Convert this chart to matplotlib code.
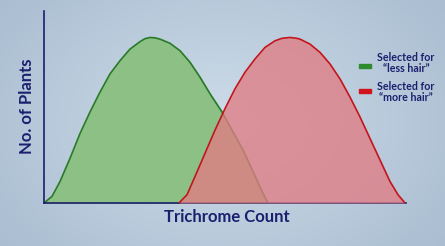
import numpy as np
import matplotlib
matplotlib.use("Agg")
import matplotlib.pyplot as plt

# values (x: trichrome count, y: no. of plants)
less_x = [0, 8, 16, 26, 36, 46, 56, 66, 76, 86, 96, 101, 106, 111, 116, 126, 136, 146, 156, 166, 178, 188, 199, 209, 218, 224]
less_y = [0, 4, 13, 27, 42, 55, 67, 78, 86, 93, 97.5, 99.3, 100, 99.8, 99, 96.5, 92, 85, 76, 66, 55, 44, 32, 19, 7, 0]
more_x = [135, 143, 151, 161, 171, 181, 191, 201, 211, 221, 231, 238, 246, 252, 256, 266, 276, 286, 296, 306, 316, 326, 336, 346, 354, 361]
more_y = [0, 5, 16, 30, 44, 57, 69, 79, 87, 94, 98, 99.5, 100, 99.6, 99, 96, 91, 84, 75, 64, 52, 39, 26, 13, 5, 0]

navy = "#1c1f6e"
plt.rcParams['font.family'] = ['Lato', 'DejaVu Sans']

fig = plt.figure(figsize=(4.45, 2.46), dpi=100)

# background gradient
bg = fig.add_axes([0, 0, 1, 1])
gx, gy = np.meshgrid(np.linspace(-1, 1, 445), np.linspace(-1, 1, 246))
r = np.sqrt((gx * 0.9) ** 2 + (gy * 0.7) ** 2)
c0 = np.array([205, 220, 233]) / 255
c1 = np.array([168, 188, 208]) / 255
t = np.clip(r / 1.2, 0, 1)[..., None]
bg.imshow(c0 * (1 - t) + c1 * t, aspect='auto', extent=[0, 1, 0, 1])
bg.axis('off')

ax = fig.add_axes([44 / 445, 43 / 246, 362 / 445, 192 / 246])
ax.patch.set_alpha(0)
ax.fill_between(less_x, less_y, color="#8cc084", zorder=1)
ax.plot(less_x, less_y, color="#2a7a2a", lw=1.2, zorder=2)
ax.fill_between(more_x, more_y, color="#e07d84", alpha=0.78, lw=0, zorder=3)
ax.plot(more_x, more_y, color="#c4141c", lw=1.2, zorder=4)

ax.set_xlim(0, 362)
ax.set_ylim(0, 116)
for s in ['top', 'right']:
    ax.spines[s].set_visible(False)
for s in ['left', 'bottom']:
    ax.spines[s].set_color(navy)
    ax.spines[s].set_linewidth(1.2)
ax.set_xticks([])
ax.set_yticks([])

fig.text(227 / 445, 1 - 217 / 246, "Trichrome Count", color=navy, fontsize=12,
         fontweight='bold', ha='center', va='center')
fig.text(27 / 445, 1 - 106 / 246, "No. of Plants", color=navy, fontsize=12,
         fontweight='bold', ha='center', va='center', rotation=90)

# legend
fig.patches.append(plt.Rectangle((359 / 445, 1 - 68 / 246), 12 / 445, 4 / 246,
                                 transform=fig.transFigure, color="#2e8b2e"))
fig.patches.append(plt.Rectangle((359 / 445, 1 - 93 / 246), 12 / 445, 4 / 246,
                                 transform=fig.transFigure, color="#d0141c"))
fig.text(406 / 445, 1 - 63 / 246, "Selected for\n\u201cless hair\u201d", color=navy,
         fontsize=7.7, fontweight='bold', ha='center', va='center', linespacing=0.9)
fig.text(406 / 445, 1 - 92 / 246, "Selected for\n\u201cmore hair\u201d", color=navy,
         fontsize=7.7, fontweight='bold', ha='center', va='center', linespacing=0.9)

fig.savefig("out.png", dpi=100)
